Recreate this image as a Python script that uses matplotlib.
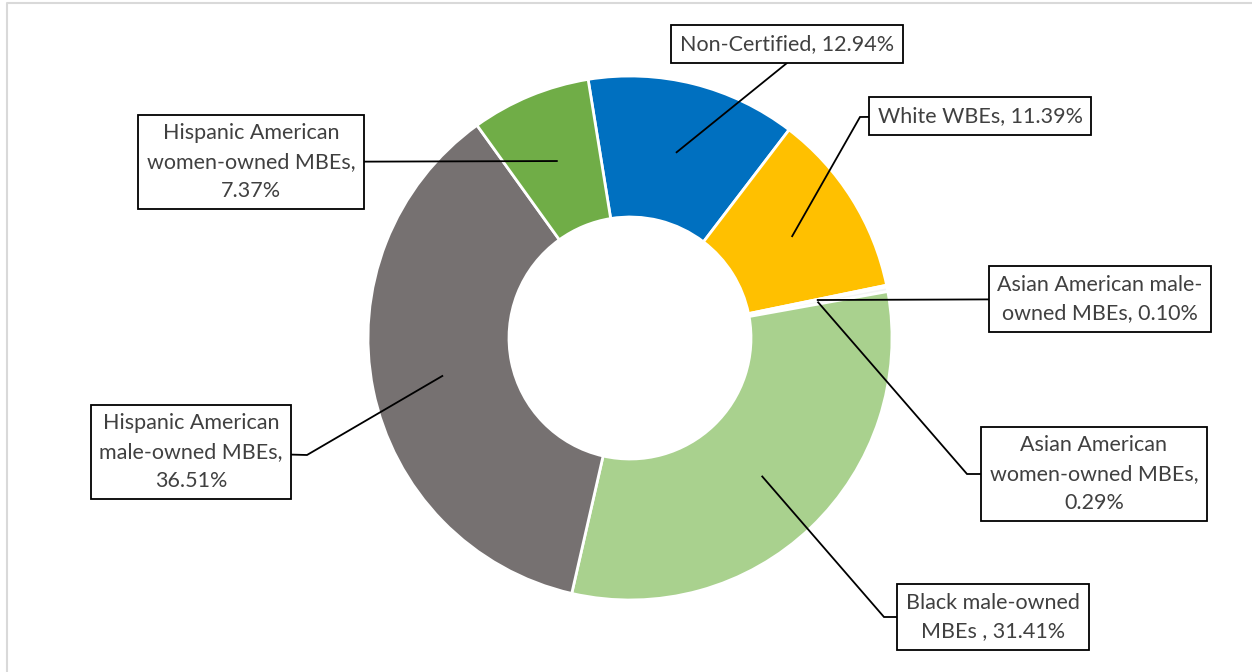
import numpy as np
import matplotlib.pyplot as plt
from matplotlib.lines import Line2D

# segment names (line breaks as they appear in the label boxes) and shares in percent
names = [
    "Non-Certified",
    "White WBEs",
    "Asian American male-\nowned MBEs",
    "Asian American\nwomen-owned MBEs,\n",
    "Black male-owned\nMBEs ",
    "Hispanic American\nmale-owned MBEs,\n",
    "Hispanic American\nwomen-owned MBEs,\n",
]
shares = [12.94, 11.39, 0.10, 0.29, 31.41, 36.51, 7.37]
colors = ["#0070C0", "#FFC000", "#8E7CC3", "#F4F4F4", "#A9D18E", "#767171", "#70AD47"]

W, H = 1252, 672
CX, CY = 630, 338          # centre of the ring (pixels from top-left)
R_OUT, R_IN = 262, 121

# label box centres and the elbow where each leader line bends (pixels from top-left)
label_pos = [(787, 44), (980, 116), (1100, 299), (1094, 474), (993, 617), (191, 452), (251, 162)]
elbows = [(787, 63), (860, 117), None, (967, 474), (884, 617), (307, 455), None]


def fy(y):
    return H - y


fig = plt.figure(figsize=(W / 100, H / 100), dpi=100)
ax = fig.add_axes([0, 0, 1, 1])

first_angle = -9.2  # degrees clockwise from 12 o'clock
wedges, _ = ax.pie(shares, colors=colors, radius=R_OUT, center=(CX, fy(CY)),
                   startangle=90 - first_angle, counterclock=False,
                   wedgeprops=dict(width=R_OUT - R_IN, edgecolor="white", linewidth=2))
ax.set_xlim(0, W)
ax.set_ylim(0, H)
ax.set_aspect("equal")
ax.axis("off")

r_mid = (R_OUT + R_IN) / 2
for w, name, val, (lx, ly), elb in zip(wedges, names, shares, label_pos, elbows):
    ang = np.deg2rad((w.theta1 + w.theta2) / 2)
    ax_ = CX + r_mid * np.cos(ang)
    ay_ = fy(CY) + r_mid * np.sin(ang)
    xs, ys = [ax_], [ay_]
    if elb is not None:
        xs.append(elb[0])
        ys.append(fy(elb[1]))
    xs.append(lx)
    ys.append(fy(ly))
    ax.plot(xs, ys, color="black", lw=1.3, zorder=3, solid_joinstyle="miter")
    sep = "" if name.endswith("\n") else ", "
    ax.text(lx, fy(ly), f"{name}{sep}{val:.2f}%", ha="center", va="center",
            fontsize=15.5, family="Lato", color="#404040", linespacing=1.55, zorder=4,
            bbox=dict(boxstyle="square,pad=0.4", fc="white", ec="black", lw=1.3))

# chart area frame: only the top and left edges show
fig.lines.append(Line2D([6.5 / W, 6.5 / W, 1], [0, 1 - 3 / H, 1 - 3 / H],
                        transform=fig.transFigure, color="#D9D9D9", lw=1.5))

fig.savefig("out.png", dpi=100)
